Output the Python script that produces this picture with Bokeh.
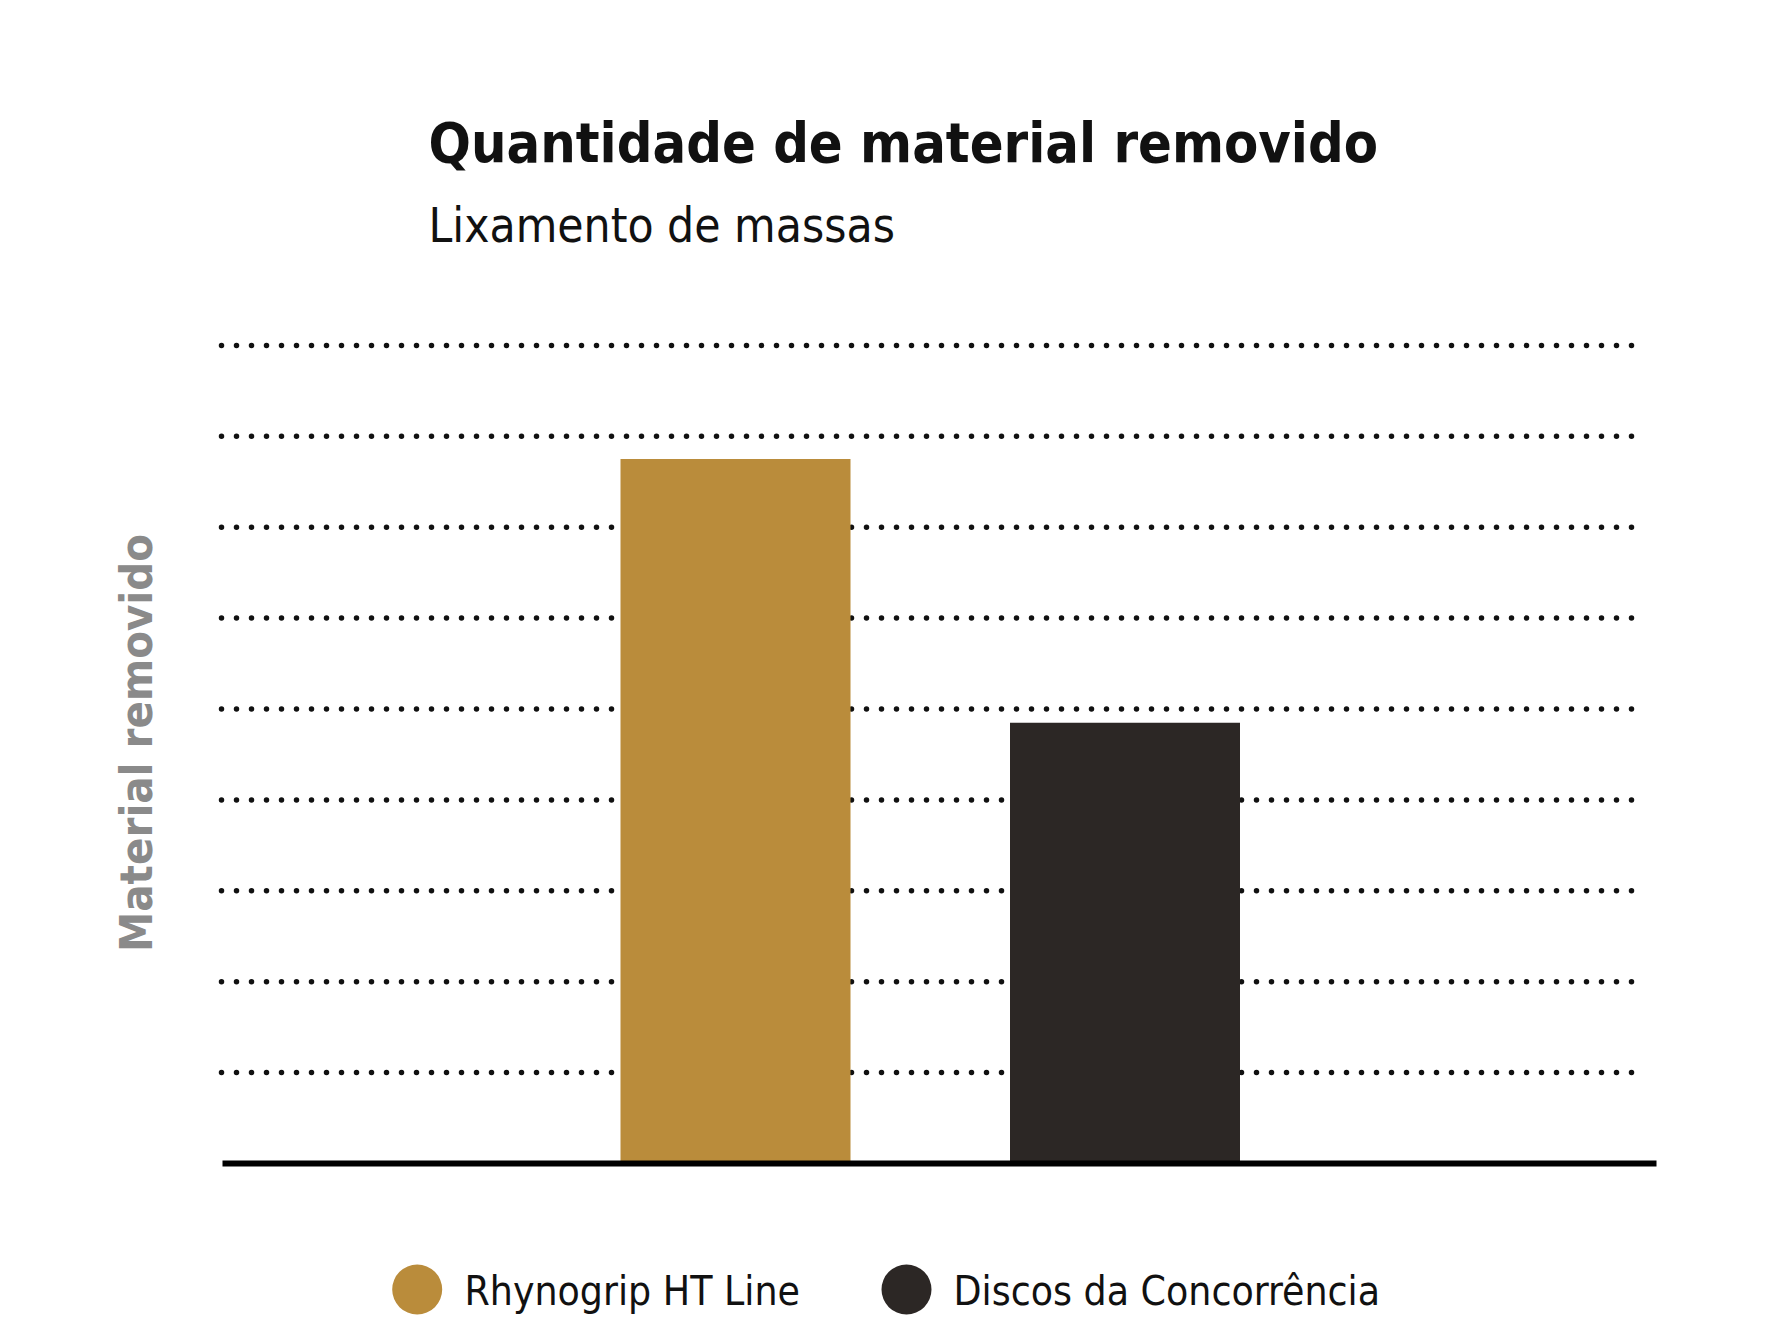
from bokeh.plotting import figure
from bokeh.models import Range1d, Label, ColumnDataSource
from bokeh.embed import file_html
from bokeh.resources import INLINE

# ---- data ----
categories = ["Rhynogrip HT Line", "Discos da Concorrência"]
values = [7.75, 4.85]
bar_colors = ["#BA8C3B", "#2C2725"]
grid_levels = [1, 2, 3, 4, 5, 6, 7, 8, 9]
title_text = "Quantidade de material removido"
subtitle_text = "Lixamento de massas"
y_label_text = "Material removido"

# ---- layout (page pixel coordinates) ----
W, H = 1784, 1326
PAGE = 0
BAR0_CX = 735.0     # centre of first bar
BAR_STEP = 389.5    # distance between bar centres
BAR_W = 230.0
BASE_Y = 1163.0     # baseline
UNIT_Y = 90.9       # pixels per value unit
K_BASE = 0.37       # empirical baseline correction (em)

FONT = "DejaVu Sans Condensed"


def px_to_x(sx):
    return 1 + (sx - BAR0_CX) / BAR_STEP


def px_to_y(sy):
    return (BASE_Y - sy) / UNIT_Y


def text_y(baseline_px, size):
    return px_to_y(baseline_px - K_BASE * size)


p = figure(width=W, height=H, output_backend="svg", toolbar_location=None,
           x_range=Range1d(px_to_x(PAGE), px_to_x(PAGE + W)),
           y_range=Range1d(px_to_y(PAGE + H), px_to_y(PAGE)),
           min_border=0, outline_line_color=None,
           background_fill_color="white", border_fill_color="white")
p.xaxis.visible = False
p.yaxis.visible = False
p.xgrid.visible = False
p.ygrid.visible = False

# dotted grid lines
gx0, gx1 = px_to_x(221), px_to_x(1646)
p.multi_line(xs=[[gx0, gx1] for _ in grid_levels],
             ys=[[g, g] for g in grid_levels],
             line_color="#111111", line_width=5.5, line_dash="0 15",
             line_cap="round")

# bars
src = ColumnDataSource(dict(x=list(range(1, len(categories) + 1)),
                            top=values, color=bar_colors, name=categories))
p.vbar(x="x", top="top", bottom=0, width=BAR_W / BAR_STEP,
       fill_color="color", line_color=None, source=src)

# baseline
p.segment(x0=[px_to_x(222)], x1=[px_to_x(1656)], y0=[0], y1=[0],
          line_color="#000000", line_width=6)

# titles
TS, SS, YS, LS = 55.5, 47.5, 45, 40.5
p.add_layout(Label(x=px_to_x(428), y=text_y(163, TS), text=title_text,
                   text_font=FONT, text_font_style="bold",
                   text_font_size=f"{TS}px", text_color="#111111",
                   text_baseline="alphabetic", text_align="left"))
p.add_layout(Label(x=px_to_x(428), y=text_y(243, SS), text=subtitle_text,
                   text_font=FONT, text_font_style="normal",
                   text_font_size=f"{SS}px", text_color="#111111",
                   text_baseline="alphabetic", text_align="left"))

# y axis label
p.add_layout(Label(x=px_to_x(136), y=px_to_y(742.5), text=y_label_text,
                   angle=90, angle_units="deg",
                   text_font=FONT, text_font_style="bold",
                   text_font_size=f"{YS}px", text_color="#8A8A8A",
                   text_baseline="middle", text_align="center"))

# legend
leg_cx = [416.7, 906.0]
leg_tx = [464.0, 953.0]
p.scatter(x=[px_to_x(c) for c in leg_cx], y=[px_to_y(1289)] * 2,
          size=50, marker="circle", fill_color=bar_colors, line_color=None)
for tx, name in zip(leg_tx, categories):
    p.add_layout(Label(x=px_to_x(tx), y=text_y(1305, LS), text=name,
                       text_font=FONT, text_font_style="normal",
                       text_font_size=f"{LS}px", text_color="#111111",
                       text_baseline="alphabetic", text_align="left"))

open("out.html", "w").write(file_html(p, INLINE))
